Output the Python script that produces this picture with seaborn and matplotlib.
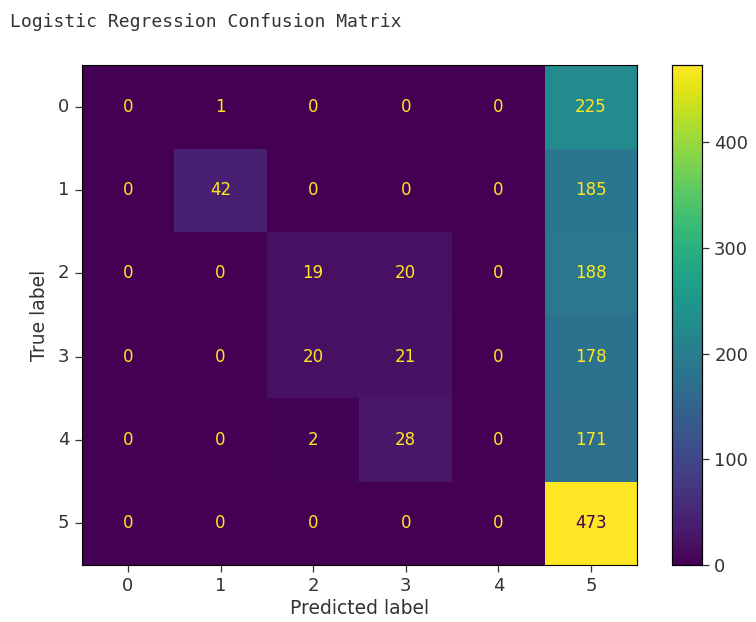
import numpy as np
import pandas as pd
import matplotlib
matplotlib.use("Agg")
import matplotlib.pyplot as plt
import seaborn as sns

labels = ["0", "1", "2", "3", "4", "5"]
row0 = [0, 1, 0, 0, 0, 225]
row1 = [0, 42, 0, 0, 0, 185]
row2 = [0, 0, 19, 20, 0, 188]
row3 = [0, 0, 20, 21, 0, 178]
row4 = [0, 0, 2, 28, 0, 171]
row5 = [0, 0, 0, 0, 0, 473]

cm = pd.DataFrame([row0, row1, row2, row3, row4, row5], index=labels, columns=labels)

sns.set_style("white")
plt.rcParams['font.family'] = ['DejaVu Sans']

fig = plt.figure(figsize=(7.56, 6.22), dpi=100)
ax = fig.add_axes([0.108, 0.092, 0.735, 0.803])
cax = fig.add_axes([0.889, 0.092, 0.040, 0.803])

cmap = plt.get_cmap("viridis")
sns.heatmap(cm, ax=ax, cbar_ax=cax, cmap=cmap, annot=True, fmt="d",
            annot_kws={"fontsize": 12}, vmin=0, vmax=cm.values.max())

vmax = cm.values.max()
thresh = vmax / 2.0
vals = cm.values.flatten()
for t, v in zip(ax.texts, vals):
    t.set_color(cmap(1.0) if v < thresh else cmap(0.0))

for s in ax.spines.values():
    s.set_visible(True)
    s.set_color("black")
    s.set_linewidth(0.8)
for s in cax.spines.values():
    s.set_visible(True)
    s.set_color("black")
    s.set_linewidth(0.8)

ax.tick_params(axis="both", which="both", length=5, width=0.9, color="#333333",
               labelsize=13, left=True, bottom=True, labelcolor="#333333", pad=4)
ax.set_yticklabels(labels, rotation=0)
ax.set_xticklabels(labels, rotation=0)
ax.set_xlabel("Predicted label", fontsize=13.5, color="#333333", labelpad=3)
ax.set_ylabel("True label", fontsize=13.5, color="#333333", labelpad=6)

cax.set_yticks([0, 100, 200, 300, 400])
cax.tick_params(labelsize=13, length=5, width=0.9, right=True, color="#333333", labelcolor="#333333")

fig.text(0.013, 0.965, "Logistic Regression Confusion Matrix",
         family="DejaVu Sans Mono", fontsize=13, color="#333333", va="center")

fig.savefig("out.png", dpi=100)
